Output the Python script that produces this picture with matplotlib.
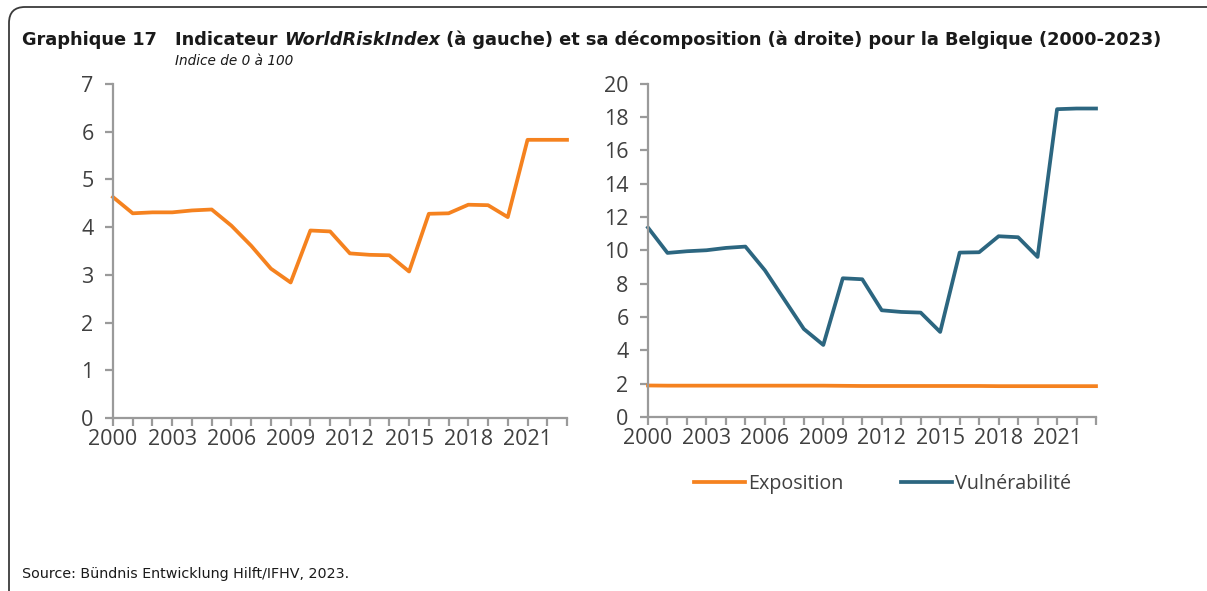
import matplotlib
matplotlib.use("Agg")
import matplotlib.pyplot as plt
from matplotlib.path import Path
from matplotlib.patches import PathPatch

years = list(range(2000, 2024))
wri = [4.63, 4.29, 4.31, 4.31, 4.35, 4.37, 4.03, 3.61, 3.13, 2.84, 3.93, 3.91,
       3.45, 3.42, 3.41, 3.07, 4.28, 4.29, 4.47, 4.46, 4.21, 5.83, 5.83, 5.83]
vulnerabilite = [11.36, 9.84, 9.94, 10.0, 10.14, 10.22, 8.8, 7.04, 5.28, 4.32, 8.32, 8.26,
                 6.4, 6.3, 6.26, 5.1, 9.86, 9.88, 10.84, 10.78, 9.6, 18.46, 18.5, 18.5]
exposition = [1.89, 1.88, 1.88, 1.88, 1.88, 1.88, 1.88, 1.88, 1.88, 1.88, 1.87, 1.86,
              1.86, 1.86, 1.86, 1.86, 1.86, 1.86, 1.85, 1.85, 1.85, 1.85, 1.85, 1.85]
xtick_labels = ["2000", "2003", "2006", "2009", "2012", "2015", "2018", "2021"]
left_yticks = [0, 1, 2, 3, 4, 5, 6, 7]
right_yticks = [0, 2, 4, 6, 8, 10, 12, 14, 16, 18, 20]
series_names = ["Exposition", "Vulnérabilité"]

ORANGE = "#F5821F"
TEAL = "#2C6680"
AXCOL = "#9A9A9A"
TXT = "#404040"
TICKFONT = ["Open Sans", "DejaVu Sans"]

W, H = 1207, 591
fig = plt.figure(figsize=(W / 100, H / 100), dpi=100)

def fx(px):
    return px / W

def fy(py):
    return 1 - py / H

def make_ax(x0, x1, ytop, ybot):
    ax = fig.add_axes([fx(x0), fy(ybot), fx(x1) - fx(x0), fy(ytop) - fy(ybot)])
    for s in ["top", "right"]:
        ax.spines[s].set_visible(False)
    for s in ["left", "bottom"]:
        ax.spines[s].set_color(AXCOL)
        ax.spines[s].set_linewidth(1.6)
    ax.set_xlim(2000, 2023)
    ax.set_xticks(years, minor=True)
    ax.set_xticks([int(t) for t in xtick_labels])
    ax.set_xticklabels(xtick_labels)
    ax.tick_params(axis="both", which="both", direction="out", color=AXCOL, width=1.6,
                   length=6, labelcolor=TXT, labelsize=15.5)
    ax.tick_params(axis="x", which="both", pad=2)
    ax.tick_params(axis="y", pad=8)
    ax.patch.set_alpha(0)
    return ax

ax1 = make_ax(113, 567, 84, 418)
ax1.plot(years, wri, color=ORANGE, lw=2.7, clip_on=False)
ax1.set_ylim(0, 7)
ax1.set_yticks(left_yticks)

ax2 = make_ax(648, 1096, 83.5, 417)
l1, = ax2.plot(years, exposition, color=ORANGE, lw=2.7, clip_on=False)
l2, = ax2.plot(years, vulnerabilite, color=TEAL, lw=2.7, clip_on=False)
ax2.set_ylim(0, 20)
ax2.set_yticks(right_yticks)

for ax in (ax1, ax2):
    for lab in ax.get_xticklabels() + ax.get_yticklabels():
        lab.set_fontfamily(TICKFONT)

leg = fig.legend([l1, l2], series_names, loc="center left",
                 bbox_to_anchor=(fx(676), fy(484)), ncol=2, frameon=False,
                 handlelength=2.6, handletextpad=0.15, columnspacing=2.9,
                 prop={"family": TICKFONT, "size": 14.2})
for t in leg.get_texts():
    t.set_color(TXT)

# overlay for text and frame
ov = fig.add_axes([0, 0, 1, 1])
ov.set_xlim(0, W)
ov.set_ylim(H, 0)
ov.axis("off")

r = 16
verts = [(9, H + 5), (9, 7 + r), (9, 7), (9 + r, 7), (W + 5, 7)]
codes = [Path.MOVETO, Path.LINETO, Path.CURVE3, Path.CURVE3, Path.LINETO]
ov.add_patch(PathPatch(Path(verts, codes), fill=False, edgecolor="#3A3A3A", lw=1.3))

tfs = 12.8
ov.text(22, 45, "Graphique 17", fontsize=tfs, fontweight="bold", color="#1A1A1A",
        va="baseline", ha="left", family="DejaVu Sans")
t1 = ov.text(175, 45, "Indicateur ", fontsize=tfs, fontweight="bold", color="#1A1A1A",
             va="baseline", ha="left", family="DejaVu Sans")
t2 = ov.annotate("WorldRiskIndex", xy=(1, 0), xycoords=t1, va="bottom", ha="left",
                 fontsize=tfs, fontweight="bold", fontstyle="italic", color="#1A1A1A",
                 family="DejaVu Sans")
ov.annotate(" (à gauche) et sa décomposition (à droite) pour la Belgique (2000-2023)",
            xy=(1, 0), xycoords=t2, va="bottom", ha="left", fontsize=tfs,
            fontweight="bold", color="#1A1A1A", family="DejaVu Sans")
ov.text(175, 65, "Indice de 0 à 100", fontsize=9.8, fontstyle="italic", color="#1A1A1A",
        va="baseline", ha="left", family="DejaVu Sans")
ov.text(22, 578, "Source: Bündnis Entwicklung Hilft/IFHV, 2023.", fontsize=10.3,
        color="#1A1A1A", va="baseline", ha="left", family="DejaVu Sans")

fig.savefig("out.png", dpi=100)
